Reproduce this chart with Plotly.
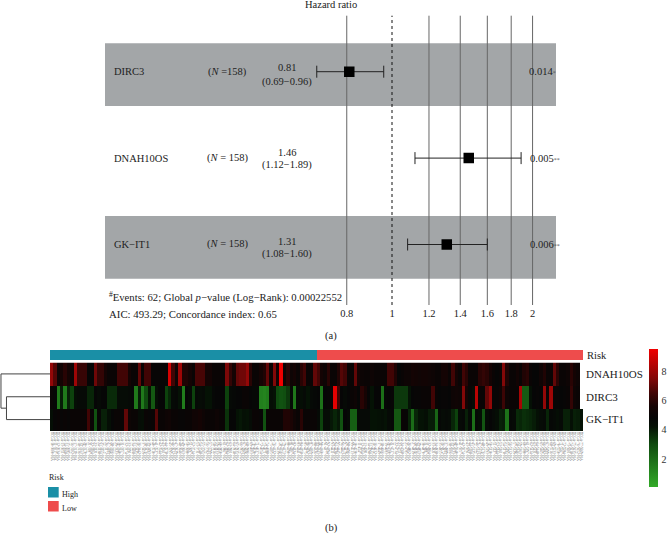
import plotly.graph_objects as go

W, H = 667, 534
FONT = "Liberation Serif"

# ---------- forest plot data ----------
genes = ["DIRC3", "DNAH10OS", "GK\u2212IT1"]
n_text = ["(<i>N</i> =158)", "(<i>N</i> = 158)", "(<i>N</i> = 158)"]
hr = [0.81, 1.46, 1.31]
ci_low = [0.69, 1.12, 1.08]
ci_high = [0.96, 1.89, 1.60]
hr_text = ["0.81", "1.46", "1.31"]
ci_text = ["(0.69\u22120.96)", "(1.12\u22121.89)", "(1.08\u22121.60)"]
p_text = ["0.014", "0.005", "0.006"]
p_stars = ["*", "**", "**"]
hr_ticks = [0.8, 1, 1.2, 1.4, 1.6, 1.8, 2]
hr_tick_text = ["0.8", "1", "1.2", "1.4", "1.6", "1.8", "2"]

# ---------- heatmap data (one value per sample) ----------
heat_rows = ["DNAH10OS", "DIRC3", "GK\u2212IT1"]
dnah10os = [
    7.8,6.8,5,5.5,6,5.5,5.2,8,6.3,6.3,6.3,4.8,4.8,7.2,6.2,6.2,5.5,5,5,5,
    6.5,6.5,6.5,5.5,5,5,7,5,6.5,6.5,4.9,4.9,4.9,4.9,4.9,9,6.5,5.2,8,5.8,
    5.8,5.5,5,6.6,6.6,6.6,5.5,5.5,5,5,5,5,7.4,6.2,5.5,7,7.2,7.2,7.8,6,
    5,5,5.5,5.8,7,5,7.5,5.5,9.5,5.2,6,5.2,5.5,5,6,6.5,5,5,7,
    6.5,5.5,5.2,6,5,5,5.8,6.8,6.5,5,5,7,5.5,5.1,5,5,5.2,5,5,5,
    5,6.5,6.5,5.8,4.8,5,5.2,5.2,5.5,5.4,5.3,5.4,5.4,5.3,5.2,5,5,5.5,5.5,
    5,6.5,5.5,5,6.5,6,5,5,5,6,6.2,6,5.5,5,4.8,5,7.5,5.8,5,5,
    5.4,5,5.8,6,5,4.8,4.8,5.3,5.8,5,5,7,6,5,5,5.2,6,5.5,5.2,
]
dirc3 = [
    5,4.8,1.6,4,1.6,3.9,3.2,4.4,4.6,4.6,4.6,3.8,3.8,4.8,4.6,4.8,4.8,3.7,3.7,3.7,
    4.5,4.5,4.5,4.6,4.7,1.6,4,1.6,3,4.2,2.6,4.4,4.8,4.8,3.2,3.8,4.6,4.7,4.2,1.5,
    4.8,4.6,3.2,4.6,4.5,4.6,4.2,4.2,4.7,4.8,4.8,4.8,3.2,4.6,4.7,4.8,4.8,5,5,4.8,
    4.7,4.7,1.4,1.3,1.5,4.4,4.2,3,2.8,2.9,3.4,4.6,1.7,4.6,4.4,4.6,4.2,4.6,4.7,
    4.8,1.8,4.8,4.9,5,9.3,6.5,4.8,4.6,4.8,5,5.2,4.8,6,5.6,4.8,4.2,4.8,4.8,1.9,
    4.7,4.8,4.9,3.4,3.4,3.4,3.4,4.2,4.8,4.9,4.9,5,5,5,6.5,5,4.8,4.9,4.9,
    4.8,5.2,5.3,5.2,7.5,5.6,4.7,4.5,8.5,5,5,7,7.8,4.9,4.9,5.2,6.4,5.2,5,5,
    5,8.2,2.5,2.5,4.3,4.8,4.9,4.8,7.8,5,8,4.9,4.9,4.8,4.9,5,6.2,5.2,5,
]
gk_it1 = [
    4.4,4.9,5,4.9,5,4.9,5,5,5,5,5,6.5,5,2.8,4.9,3.9,3.9,4.4,4.8,5,
    5,5,7,5.2,5,5,4.5,4.4,5,4.9,5,6.8,5,5,5.2,5.3,5,5,4.9,4.9,
    5,5,5.3,5.3,5.5,5.2,5,5,5,5.2,5,5,3.5,4.8,4.8,4.2,4.1,4.3,4.2,4.5,
    5,5,4.9,2.8,5,5,5,5,5,5.8,5.8,5.7,5.3,5,6,5,5,5,5,
    4.6,3.2,4.5,4.5,4.1,3.8,4.1,2.8,4.8,4.6,2.4,2.4,4.6,4.6,4.6,4.6,4.2,4.2,4.3,4.4,
    4.2,4.6,4.7,2.6,2.6,5,4.9,3.8,2,3.8,4.2,4.2,4.4,4,4,2.2,4.7,4.5,4.6,4.5,
    3.8,3.2,4.6,4.7,3.9,4.6,1.9,4.6,4.4,2.7,4.6,4.8,4.6,4.4,3.9,4,1.8,4.7,4.6,3.7,
    3.8,3.6,3.7,3.8,4,4.3,4.5,4.6,3.8,4.7,4.6,4.4,4.6,3.9,3.9,4.3,3.9,4,4.2,
]
n_samples = 158
n_high = 79
risk_groups = [0] * n_high + [1] * (n_samples - n_high)
# sample names are illegible in the picture: these stand in for them
sample_labels = [f"TCGA-{i % 90 + 10:02d}-{3000 + 17 * i:04d}-01A" for i in range(n_samples)]
colorbar_ticks = [2, 4, 6, 8]

# colour stops: expression value -> colour
Z_MIN, Z_MAX = 0.1, 9.5
colour_stops = [
    (0.1, "rgb(50,170,40)"),
    (3.0, "rgb(15,75,15)"),
    (4.2, "rgb(5,18,5)"),
    (4.8, "rgb(6,6,6)"),
    (5.6, "rgb(22,4,4)"),
    (6.5, "rgb(65,5,5)"),
    (7.5, "rgb(130,8,8)"),
    (9.5, "rgb(240,0,0)"),
]

# dendrogram merge heights (relative) and row positions
dend_x = [[0, 1.0, 1.0, 0.888], [0, 0.888, 0.888, 0]]
dend_y = [[0, 0, 1.5, 1.5], [1, 1, 2, 2]]

def px(x):
    return x / W

def py(y):
    return 1 - y / H

fig = go.Figure()

# forest plot ------------------------------------------------------------
fig.add_trace(go.Scatter(
    x=hr, y=[0, 1, 2], mode="markers", xaxis="x", yaxis="y",
    marker=dict(symbol="square", size=10.5, color="black"),
    error_x=dict(type="data", symmetric=False,
                 array=[h - m for h, m in zip(ci_high, hr)],
                 arrayminus=[m - l for m, l in zip(hr, ci_low)],
                 color="#222222", thickness=1, width=6),
    showlegend=False, hoverinfo="skip"))

shapes = []
for row in (0, 2):
    shapes.append(dict(type="rect", xref="x domain", yref="y", x0=0, x1=1,
                       y0=row - 0.329, y1=row + 0.397, fillcolor="#A3A6A8",
                       line=dict(width=0), layer="below"))
for t in hr_ticks:
    shapes.append(dict(type="line", xref="x", yref="y domain", x0=t, x1=t, y0=0, y1=1,
                       layer="below",
                       line=dict(color="#111111" if t == 1 else "#666666",
                                 width=1, dash="dot" if t == 1 else "solid")))

# heatmap ----------------------------------------------------------------
fig.add_trace(go.Heatmap(
    z=[dnah10os, dirc3, gk_it1], x=list(range(n_samples)), y=[0, 1, 2],
    xaxis="x2", yaxis="y2", zmin=Z_MIN, zmax=Z_MAX,
    colorscale=[[(v - Z_MIN) / (Z_MAX - Z_MIN), c] for v, c in colour_stops],
    colorbar=dict(x=px(649), xanchor="left", xpad=0, y=py(349), yanchor="top", ypad=0,
                  len=138 / H, lenmode="fraction", thickness=9, outlinewidth=0,
                  tickmode="array", tickvals=colorbar_ticks, ticks="outside", ticklen=2,
                  tickcolor="rgba(0,0,0,0)",
                  tickfont=dict(family=FONT, size=10, color="#333333")),
    hoverinfo="skip"))
fig.add_trace(go.Heatmap(
    z=[risk_groups], x=list(range(n_samples)), y=[0], xaxis="x2", yaxis="y3",
    zmin=0, zmax=1, showscale=False,
    colorscale=[[0, "#1A8FA6"], [1, "#EE4C4C"]], hoverinfo="skip"))
for xs, ys in zip(dend_x, dend_y):
    fig.add_trace(go.Scatter(x=xs, y=ys, mode="lines", xaxis="x3", yaxis="y4",
                             line=dict(color="#444444", width=1),
                             showlegend=False, hoverinfo="skip"))

# text -------------------------------------------------------------------
annotations = []
def ann(x, y, text, size=10.5, anchor="left", color="#222222"):
    annotations.append(dict(x=px(x), y=py(y), xref="paper", yref="paper", text=text,
                            showarrow=False, xanchor=anchor, yanchor="middle",
                            xshift=0, yshift=0, borderpad=0,
                            font=dict(family=FONT, size=size, color=color)))

row_y = [71.7, 158, 244.5]
line1 = [68, 153, 241]
line2 = [82, 165, 254]
p_x = [528, 529, 529]
n_x = [207, 206, 206]
for i in range(3):
    ann(113, row_y[i], genes[i])
    ann(n_x[i], row_y[i], n_text[i])
    ann(287, line1[i], hr_text[i], anchor="center")
    ann(287, line2[i], ci_text[i], anchor="center")
    ann(p_x[i], row_y[i],
        f'{p_text[i]}<span style="font-size:6px;color:#555555">{p_stars[i]}</span>')
ann(331, 4, "Hazard ratio", anchor="center")
ann(108, 297, "<sup>#</sup>Events: 62; Global <i>p</i>\u2212value (Log\u2212Rank): 0.00022552", size=10.7)
ann(108, 314, "AIC: 493.29; Concordance index: 0.65", size=10.8)
ann(331, 336, "(a)", anchor="center")
ann(331, 528, "(b)", anchor="center")
ann(586, 355, "Risk", size=10.5)
ann(48, 477, "Risk", size=8)
ann(60.7, 494, "High", size=8)
ann(60.7, 508, "Low", size=8)

for y0, c in ((487, "#1A8FA6"), (501, "#EE4C4C")):
    shapes.append(dict(type="rect", xref="paper", yref="paper", x0=px(48), x1=px(58.7),
                       y0=py(y0 + 10.5), y1=py(y0), fillcolor=c, line=dict(width=0)))

# layout -----------------------------------------------------------------
fig.update_layout(
    width=W, height=H, margin=dict(l=0, r=0, t=0, b=0, autoexpand=False),
    paper_bgcolor="white", plot_bgcolor="rgba(0,0,0,0)",
    shapes=shapes, annotations=annotations, showlegend=False,
    xaxis=dict(type="log", domain=[px(105), px(556)], range=[-0.6146, 0.3512],
               tickmode="array", tickvals=hr_ticks, ticktext=hr_tick_text,
               showgrid=False, zeroline=False, showline=False, ticks="", anchor="y",
               tickfont=dict(family=FONT, size=10.5, color="#222222")),
    yaxis=dict(visible=False, domain=[py(305), py(15.7)], range=[2.70, -0.648], anchor="x"),
    xaxis2=dict(domain=[px(50), px(583)], range=[-0.5, 157.5], anchor="y2",
                tickmode="array", tickvals=list(range(n_samples)), ticktext=sample_labels,
                tickangle=90, ticks="", showgrid=False, zeroline=False, showline=False,
                tickfont=dict(family=FONT, size=3.4, color="#555555")),
    yaxis2=dict(domain=[py(431), py(362.5)], range=[2.5, -0.5], anchor="x2", side="right",
                tickmode="array", tickvals=[0, 1, 2], ticktext=heat_rows, ticks="",
                ticklabelstandoff=2,
                showgrid=False, zeroline=False, showline=False,
                tickfont=dict(family=FONT, size=11, color="#222222")),
    yaxis3=dict(visible=False, domain=[py(360), py(350)], range=[-0.5, 0.5], anchor="x2"),
    xaxis3=dict(visible=False, domain=[px(0), px(50)], range=[1.02, 0], anchor="y4"),
    yaxis4=dict(visible=False, domain=[py(431), py(362.5)], range=[2.5, -0.5], anchor="x3"),
)
fig.write_html("out.html", config={"displayModeBar": False},
               post_script="document.body.style.margin='0';document.documentElement.style.overflow='hidden';")
